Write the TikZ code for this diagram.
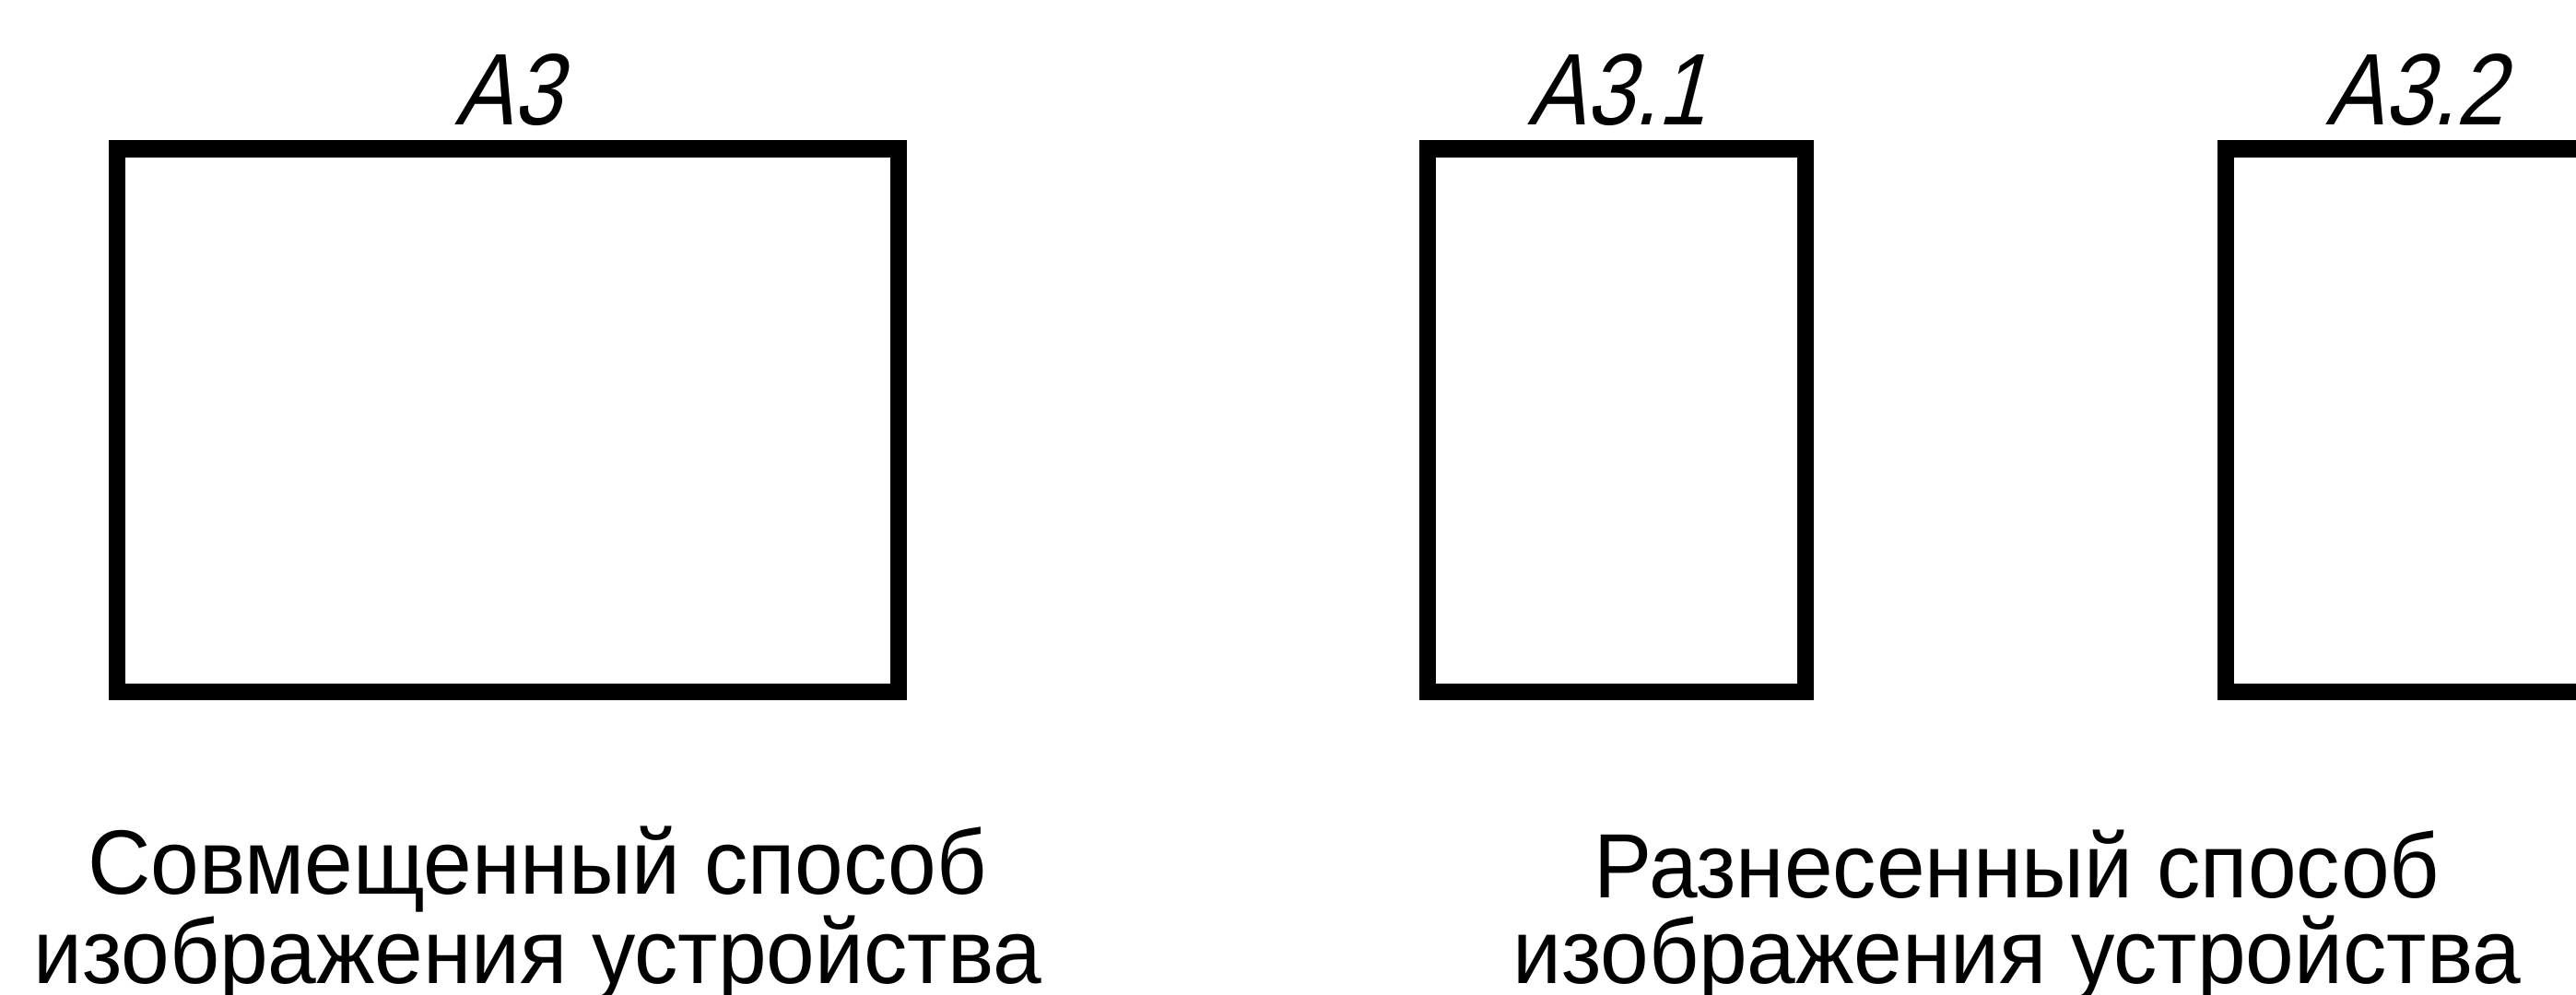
\documentclass[tikz,border=0pt]{standalone}
\usepackage{fontspec}
\setmainfont{Liberation Sans}
\newfontfamily\gostfont[FakeSlant=0.25,FakeStretch=0.85]{Liberation Sans}
\newfontfamily\notefont[FakeStretch=0.955]{Liberation Sans}
\usetikzlibrary{positioning}

\begin{document}
\begin{tikzpicture}
    \tikzstyle{unit}=[rectangle, draw, line width=0.185cm, minimum height=5.895cm, inner sep=0]
    \tikzstyle{tag}=[inner sep=0, font=\gostfont\fontsize{31.4}{34}\selectfont]
    \tikzstyle{caption}=[anchor=base, align=center, inner sep=0, font=\notefont\fontsize{28.2}{26.2}\selectfont]
\useasboundingbox[fill=white] (0,0) rectangle (27.95,10.79);

% combined way
\node[unit, minimum width=8.48cm] (a3) at (5.51,6.2275) {};
\node[tag, above=0.15cm of a3] (t3) {A3};

% separated way
\node[unit, minimum width=4.10cm] (a31) at (17.54,6.2275) {};
\node[unit, minimum width=4.10cm] (a32) at (26.20,6.2275) {};
\node[tag, above=0.15cm of a31] (t31) {A3.1};
\node[tag, above=0.15cm of a32] (t32) {A3.2};

\node[caption] (c1) at (5.83,0.12) {Совмещенный способ\\изображения устройства};
\node[caption] (c2) at (21.88,0.12) {Разнесенный способ\\изображения устройства};

\end{tikzpicture}
\end{document}
